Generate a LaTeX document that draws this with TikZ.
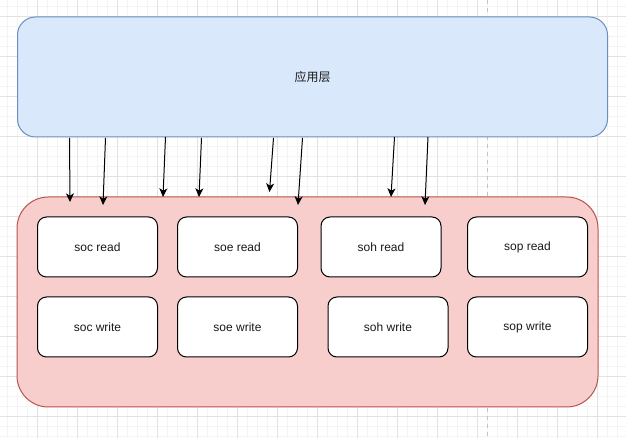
\documentclass[tikz,border=0pt]{standalone}
\usepackage{fontspec}
\setmainfont{Liberation Sans}
\newfontfamily\cjk{Noto Sans CJK SC}
\usetikzlibrary{arrows.meta}
\definecolor{gridminor}{HTML}{F4F4F4}
\definecolor{gridmajor}{HTML}{E2E2E2}
\definecolor{pagedash}{HTML}{C4C4C4}
\definecolor{bluefill}{HTML}{DAE8FC}
\definecolor{bluestroke}{HTML}{6C8EBF}
\definecolor{redfill}{HTML}{F8CECC}
\definecolor{redstroke}{HTML}{B85450}
\definecolor{txt}{HTML}{1A1A1A}
\tikzset{
  layerbox/.style={draw, line width=0.75pt, inner sep=0pt, outer sep=0pt},
  modbox/.style={draw=black, fill=white, line width=0.75pt, rounded corners=6.75pt,
    minimum width=90pt, minimum height=45pt, inner sep=0pt, outer sep=0pt,
    font=\fontsize{9pt}{11pt}\selectfont, text=txt},
  arr/.style={draw=black, line width=0.75pt, -{Stealth[length=6.5pt, width=6pt, inset=1.8pt]}},
}
\begin{document}
\begin{tikzpicture}[x=0.75pt, y=-0.75pt]
\useasboundingbox (0,0) rectangle (626,438);
\fill[white] (0,0) rectangle (626,438);
% grid
\foreach \gx in {7.5,17.5,...,626} {\draw[gridminor, line width=0.75pt] (\gx,0) -- (\gx,438);}
\foreach \gy in {7,17,...,438} {\draw[gridminor, line width=0.75pt] (0,\gy) -- (626,\gy);}
\foreach \gx in {37.5,77.5,...,626} {\draw[gridmajor, line width=0.75pt] (\gx,0) -- (\gx,438);}
\foreach \gy in {17,57,...,438} {\draw[gridmajor, line width=0.75pt] (0,\gy) -- (626,\gy);}
\draw[pagedash, line width=0.75pt, dash pattern=on 3pt off 3pt] (487.5,0) -- (487.5,438);
% layers
\node[layerbox, draw=bluestroke, fill=bluefill, rounded corners=13.5pt,
  minimum width=442.5pt, minimum height=90pt,
  font=\cjk\fontsize{9pt}{11pt}\selectfont, text=txt] (app) at (312.5,77) {应用层};
\node[layerbox, draw=redstroke, fill=redfill, rounded corners=23.5pt,
  minimum width=435.75pt, minimum height=157.5pt] (drv) at (307.5,302) {};
% modules
\node[modbox] (socr) at (97.5,247) {soc read};
\node[modbox] (soer) at (237.5,247) {soe read};
\node[modbox] (sohr) at (381,247) {soh read};
\node[modbox] (sopr) at (527.5,247) {sop read};
\node[modbox] (socw) at (97.5,327) {soc write};
\node[modbox] (soew) at (237.5,327) {soe write};
\node[modbox] (sohw) at (388,327) {soh write};
\node[modbox] (sopw) at (527.5,327) {sop write};
% arrow end points
\coordinate (s1) at (69.5,138);  \coordinate (e1) at (70,202);
\coordinate (s2) at (105.5,138); \coordinate (e2) at (103,205);
\coordinate (s3) at (165.5,137); \coordinate (e3) at (163,197);
\coordinate (s4) at (201.5,138); \coordinate (e4) at (199,197);
\coordinate (s5) at (273.5,138); \coordinate (e5) at (269.5,192);
\coordinate (s6) at (302.5,138); \coordinate (e6) at (298,205);
\coordinate (s7) at (394.5,137); \coordinate (e7) at (391,197);
\coordinate (s8) at (428,137);   \coordinate (e8) at (425,205);
\foreach \i in {1,...,8} {\draw[arr] (s\i) -- (e\i);}
\end{tikzpicture}
\end{document}
